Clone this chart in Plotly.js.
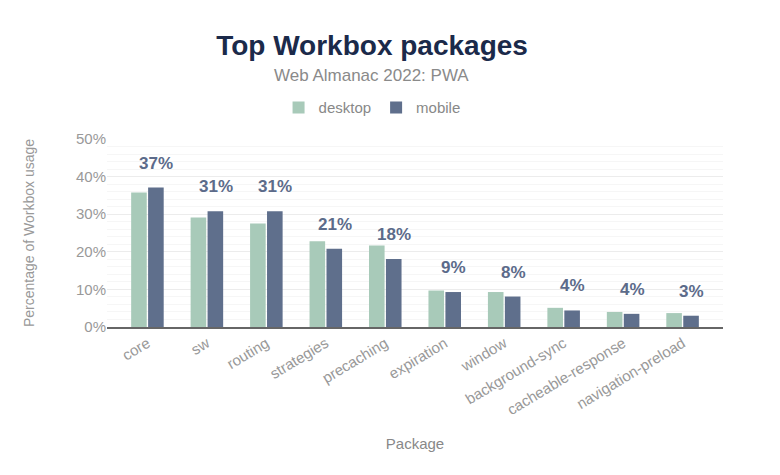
<!DOCTYPE html>
<html>
<head>
<meta charset="utf-8">
<script src="https://cdn.plot.ly/plotly-3.0.1.min.js"></script>
<style>
  html, body { margin: 0; padding: 0; background: #fff; }
  #chart { width: 780px; height: 475px; }
</style>
</head>
<body>
<div id="chart"></div>
<script>
// top workbox packages, desktop vs mobile (percent of workbox usage)
var packages = ['core', 'sw', 'routing', 'strategies', 'precaching', 'expiration',
                'window', 'background-sync', 'cacheable-response', 'navigation-preload'];
var desktop = [35.8, 29.1, 27.5, 22.8, 21.7, 9.7, 9.3, 5.1, 4.0, 3.7];
var mobile  = [37.1, 30.8, 30.8, 20.8, 18.1, 9.3, 8.1, 4.4, 3.5, 3.0];

var desktopBars = {
  type: 'bar',
  name: 'desktop',
  x: packages,
  y: desktop,
  marker: {color: '#a8cab9'},
  hoverinfo: 'x+y'
};

var mobileBars = {
  type: 'bar',
  name: 'mobile',
  x: packages,
  y: mobile,
  marker: {color: '#5f6f8c'},
  hoverinfo: 'x+y'
};

var data = [desktopBars, mobileBars];

// labels over the mobile bars
var labels = [];
for (let i = 0; i < packages.length; i++) {
  labels.push({
    xref: 'x', yref: 'y',
    x: i, y: mobile[i],
    xshift: 9, yshift: 13,
    yanchor: 'bottom',
    text: Math.round(mobile[i]) + '%',
    showarrow: false,
    font: {family: 'Liberation Sans, Arial', size: 17, color: '#5c6b8a', weight: 'bold'}
  });
}

// subtitle
labels.push({
  xref: 'paper', yref: 'paper',
  x: 0.429, y: 1.34,
  xanchor: 'center', yanchor: 'middle',
  text: 'Web Almanac 2022: PWA',
  showarrow: false,
  font: {family: 'Liberation Sans, Arial', size: 17, color: '#8a8a8a'}
});

var layout = {
  width: 780,
  height: 475,
  margin: {l: 107, r: 57, t: 139, b: 148},
  paper_bgcolor: 'white',
  plot_bgcolor: 'white',
  font: {family: 'Liberation Sans, Arial', color: '#888'},
  title: {
    text: '<b>Top Workbox packages</b>',
    font: {family: 'Liberation Sans, Arial', size: 28, color: '#1b2a4a'},
    xref: 'container', x: 0.477, xanchor: 'center',
    yref: 'container', y: 0.905, yanchor: 'middle'
  },
  showlegend: true,
  legend: {
    orientation: 'h',
    xref: 'container', x: 0.477, xanchor: 'center',
    yref: 'container', y: 0.773, yanchor: 'middle',
    font: {size: 15, color: '#888'},
    itemwidth: 30
  },
  barmode: 'group',
  bargap: 0.43,
  bargroupgap: 0.08,
  xaxis: {
    range: [-0.68, 9.68],
    tickangle: -31,
    tickfont: {size: 15, color: '#999'},
    showline: true,
    linecolor: '#666',
    linewidth: 2,
    ticks: '',
    title: {text: 'Package', font: {size: 15, color: '#888'}, standoff: 21}
  },
  yaxis: {
    range: [0, 50],
    dtick: 10,
    ticksuffix: '%',
    tickfont: {size: 15, color: '#999'},
    gridcolor: '#ececec',
    zeroline: false,
    minor: {dtick: 2, showgrid: true, gridcolor: '#f6f6f6'},
    title: {text: 'Percentage of Workbox usage', font: {size: 14, color: '#999'}, standoff: 38}
  },
  annotations: labels
};

var config = {responsive: false, displayModeBar: false};

Plotly.newPlot('chart', data, layout, config);
</script>
</body>
</html>
